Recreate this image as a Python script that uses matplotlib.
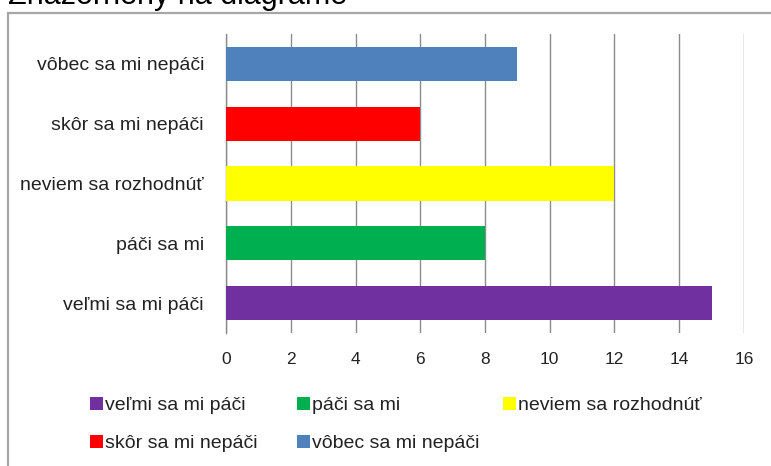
import matplotlib
matplotlib.use("Agg")
import matplotlib.pyplot as plt
from matplotlib.patches import Rectangle

plt.rcParams['font.family'] = ['Liberation Sans', 'DejaVu Sans']

title = "Znázornený na diagrame"
categories = ["veľmi sa mi páči", "páči sa mi", "neviem sa rozhodnúť",
              "skôr sa mi nepáči", "vôbec sa mi nepáči"]
values = [15, 8, 12, 6, 9]
colors = ["#7030A0", "#00B050", "#FFFF00", "#FF0000", "#4F81BD"]
xticks = [0, 2, 4, 6, 8, 10, 12, 14, 16]

W, H = 771, 466
fig = plt.figure(figsize=(W / 100, H / 100), dpi=100)

def fx(px):
    return px / W

def fy(py):
    return 1 - py / H

# chart frame (cropped screenshot: continues past right and bottom edges)
frame = Rectangle((fx(8), fy(H + 20)), fx(W + 40), (H + 20 - 13) / H,
                  transform=fig.transFigure, fill=False,
                  edgecolor="#a6a6a6", linewidth=1.6, clip_on=False)
fig.add_artist(frame)

# cropped title
fig.text(fx(8), fy(4), title, fontsize=22, color="black",
         va="baseline", ha="left")

ax = fig.add_axes([fx(226), fy(333), fx(744 - 226), (333 - 34) / H])
ypos = list(range(len(categories)))
bars = ax.barh(ypos, values, height=0.57, color=colors, zorder=3)

ax.set_xlim(0, 16)
ax.set_ylim(-0.5, len(categories) - 0.5)
ax.set_xticks(xticks)
ax.set_xticklabels([str(t) for t in xticks])
ax.set_yticks(ypos)
ax.set_yticklabels(categories)

ax.grid(axis="x", color="#8c8c8c", linewidth=1.0, zorder=1)
ax.grid(axis="y", visible=False)
for s in ["top", "right", "bottom"]:
    ax.spines[s].set_visible(False)
ax.spines["left"].set_color("#8c8c8c")
ax.spines["left"].set_linewidth(1.0)
ax.tick_params(axis="x", length=0, pad=13.5, labelsize=12.5, labelcolor="#222222")
ax.tick_params(axis="y", length=0, pad=15.8, labelsize=14, labelcolor="#222222")

# legend: 3 equal-width columns, row-major order
col_x = [90, 297, 503]
row_y = [405.5, 443.5]
for i, (bar, lab) in enumerate(zip(bars, categories)):
    c, r = i % 3, i // 3
    fig.legend(handles=[bar], labels=[lab], loc="center left",
               bbox_to_anchor=(fx(col_x[c]), fy(row_y[r])),
               bbox_transform=fig.transFigure, frameon=False,
               borderpad=0, borderaxespad=0, handlelength=0.67,
               handleheight=0.67, handletextpad=0.1, fontsize=14,
               labelcolor="#222222")

fig.savefig("out.png", dpi=100)
